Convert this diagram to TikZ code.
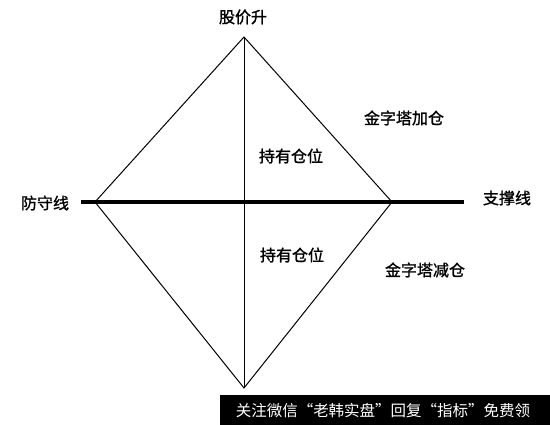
\documentclass[tikz,border=0pt]{standalone}
\usepackage{fontspec}
\newfontfamily\cjk[FakeBold=1.2]{Noto Sans CJK SC}
\newfontfamily\cjkw{Noto Sans CJK SC}
\begin{document}
\begin{tikzpicture}[x=1pt,y=-1pt,
  lbl/.style={font=\cjk\fontsize{16}{18}\selectfont, inner sep=0pt},
  thin/.style={line width=1pt, black},
  thick/.style={line width=3.5pt, black}]
\useasboundingbox (0,0) rectangle (550,425);
\fill[white] (0,0) rectangle (550,425);
\coordinate (T) at (244,37);
\coordinate (L) at (95,202);
\coordinate (R) at (392,202);
\coordinate (B) at (244,388);
\coordinate (HL) at (81,202);
\coordinate (HR) at (464,202);
\draw[thin] (T) -- (R) -- (B) -- (L) -- cycle;
\draw[thin] (T) -- (B);
\draw[thick] (HL) -- (HR);
\node[lbl] (up) at (243,17) {股价升};
\node[lbl] (def) at (45,203) {防守线};
\node[lbl] (sup) at (507,198) {支撑线};
\node[lbl] (add) at (404,118) {金字塔加仓};
\node[lbl] (hold1) at (291,156) {持有仓位};
\node[lbl] (hold2) at (292,255) {持有仓位};
\node[lbl] (red) at (425,270) {金字塔减仓};
\fill[black] (220,395) rectangle (550,425);
\node[lbl, white, font=\cjkw\fontsize{15.5}{18}\selectfont] (wm) at (383,411) {关注微信“老韩实盘”回复“指标”免费领};
\end{tikzpicture}
\end{document}
